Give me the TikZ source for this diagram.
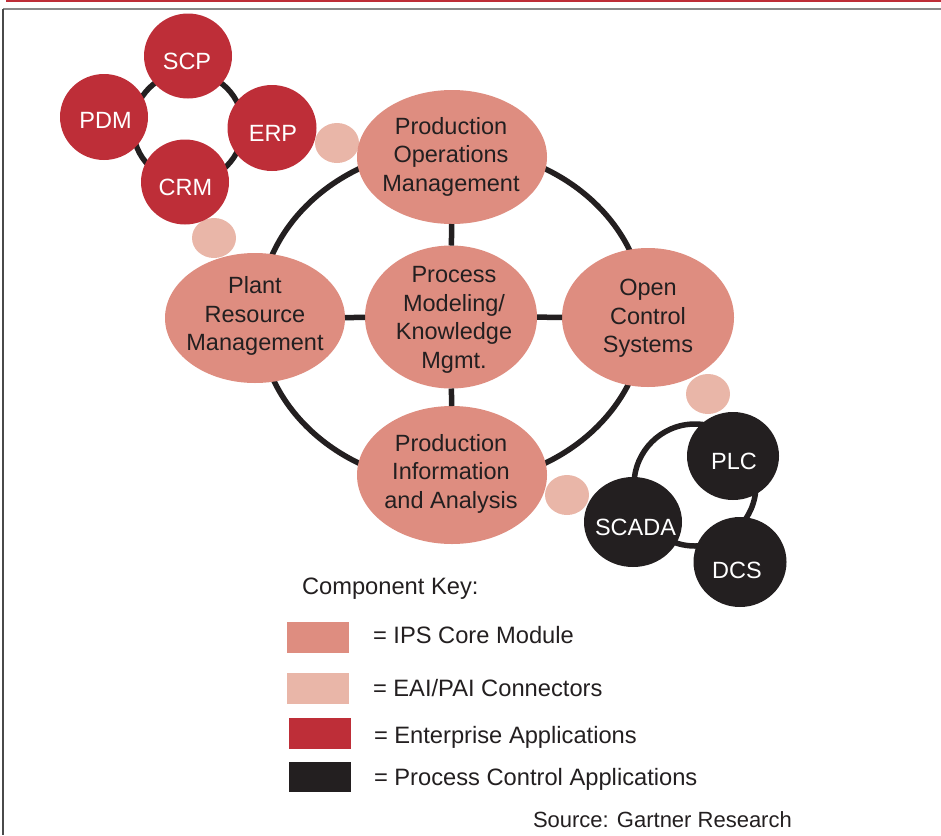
\documentclass[tikz,border=0pt]{standalone}
\usepackage{fontspec}
\setmainfont{Liberation Sans}
\usetikzlibrary{shapes.geometric}

\definecolor{coremod}{HTML}{DE8D80}
\definecolor{connector}{HTML}{E9B6A8}
\definecolor{entapp}{HTML}{BE2E38}
\definecolor{pctrl}{HTML}{231F20}
\definecolor{inktext}{HTML}{231F20}
\definecolor{rulegray}{HTML}{8A8A8A}
\definecolor{edgegray}{HTML}{4A4A4A}

\begin{document}
\begin{tikzpicture}[x=1pt,y=-1pt,
  every node/.style={inner sep=0pt, outer sep=0pt},
  bubble/.style={ellipse, draw=none},
  core/.style={bubble, fill=coremod},
  conn/.style={bubble, fill=connector, minimum width=44pt, minimum height=40pt},
  ent/.style={bubble, fill=entapp},
  ctrl/.style={bubble, fill=pctrl},
  link/.style={line width=5.5pt, draw=pctrl},
  coretext/.style={font=\fontsize{23.5}{28.5}\selectfont, text=inktext, align=center},
  apptext/.style={font=\fontsize{23.5}{28}\selectfont, text=white},
  keytext/.style={font=\fontsize{23.7}{28}\selectfont, text=inktext, anchor=base west},
  swatch/.style={rectangle, minimum width=62pt, minimum height=31pt, anchor=north west}
]
\useasboundingbox (0,0) rectangle (941,835);

% page rules
\draw[entapp, line width=2pt] (6,1) -- (941,1);
\draw[rulegray, line width=2pt] (3,9) -- (941,9);
\draw[edgegray, line width=2pt] (3,9) -- (3,835);

% rings behind the modules
\coordinate (hub) at (452,316);
\draw[link] (hub) ellipse [x radius=193, y radius=168];
\coordinate (enthub) at (188,127);
\draw[link] (enthub) circle [radius=55];
\coordinate (ctrlhub) at (695,485);
\draw[link] (ctrlhub) circle [radius=61];

% EAI/PAI connectors
\node[conn] (cerp) at (337,143) {};
\node[conn] (ccrm) at (214,238) {};
\node[conn] (cocs) at (708,394) {};
\node[conn] (cpia) at (567,495) {};

% IPS core modules
\node[core, minimum width=190pt, minimum height=134pt] (pom) at (452,157) {};
\node[core, minimum width=180pt, minimum height=130pt] (prm) at (255,318) {};
\node[core, minimum width=172pt, minimum height=143pt] (pmk) at (451,317) {};
\node[core, minimum width=172pt, minimum height=139pt] (ocs) at (648,317.5) {};
\node[core, minimum width=190pt, minimum height=138pt] (pia) at (452,475) {};

\draw[link] (pom) -- (pmk);
\draw[link] (pmk) -- (pia);
\draw[link] (prm) -- (pmk);
\draw[link] (pmk) -- (ocs);

\node[coretext] (pomt) at (451,156.5) {Production\\Operations\\Management};
\node[coretext] (prmt) at (255,316) {Plant\\Resource\\Management};
\node[coretext] (pmkt) at (454,320) {Process\\Modeling/\\Knowledge\\Mgmt.};
\node[coretext] (ocst) at (648,318.5) {Open\\Control\\Systems};
\node[coretext] (piat) at (451,473.5) {Production\\Information\\and Analysis};

% enterprise applications
\node[ent, minimum width=88pt, minimum height=85pt] (scp) at (188,56) {};
\node[ent, minimum width=88pt, minimum height=86pt] (pdm) at (104,117) {};
\node[ent, minimum width=89pt, minimum height=86pt] (erp) at (272,128) {};
\node[ent, minimum width=88pt, minimum height=85pt] (crm) at (185,182) {};
\node[apptext] (scpt) at (187,61) {SCP};
\node[apptext] (pdmt) at (105.5,120) {PDM};
\node[apptext] (erpt) at (273,133) {ERP};
\node[apptext] (crmt) at (185.5,187) {CRM};

% process control applications
\node[ctrl, minimum width=92pt, minimum height=88pt] (plc) at (733,456) {};
\node[ctrl, minimum width=98pt, minimum height=90pt] (scada) at (633,522) {};
\node[ctrl, minimum width=93pt, minimum height=90pt] (dcs) at (740,562) {};
\node[apptext] (plct) at (734,461) {PLC};
\node[apptext] (scadat) at (635.5,527) {SCADA};
\node[apptext] (dcst) at (737,570) {DCS};

% component key
\node[keytext] (keyhead) at (302,594) {Component Key:};
\node[swatch, fill=coremod] (kcore) at (287,622) {};
\node[swatch, fill=connector] (kconn) at (287,673) {};
\node[swatch, fill=entapp] (kent) at (289,718) {};
\node[swatch, fill=pctrl, minimum height=30pt] (kctrl) at (289,762) {};
\node[keytext] (kcoret) at (373,643) {= IPS Core Module};
\node[keytext] (kconnt) at (373,696) {= EAI/PAI Connectors};
\node[keytext] (kentt) at (374,743) {= Enterprise Applications};
\node[keytext] (kctrlt) at (374,785) {= Process Control Applications};

\node[keytext, font=\fontsize{22}{26}\selectfont] (source) at (533,827) {Source: Gartner Research};
\end{tikzpicture}
\end{document}
